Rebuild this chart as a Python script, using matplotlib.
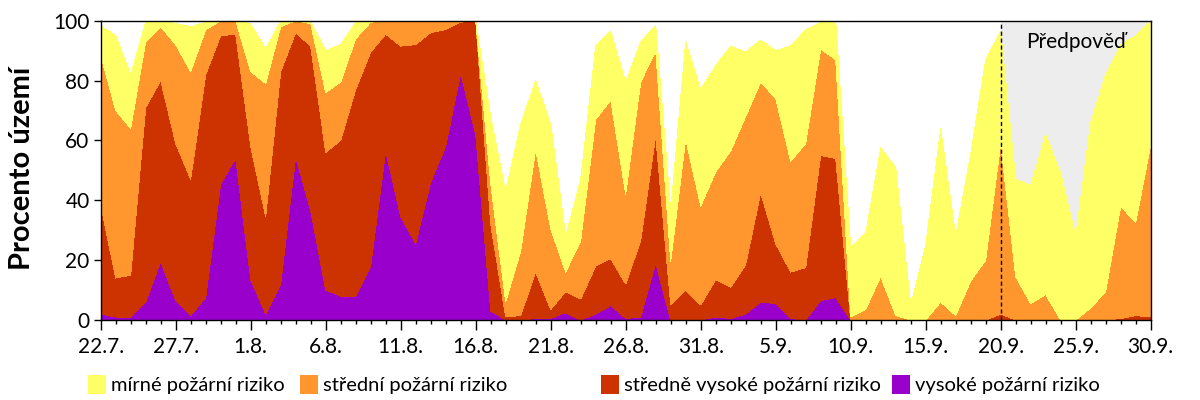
import matplotlib
matplotlib.use("Agg")
import matplotlib.pyplot as plt
from matplotlib.patches import Patch
import numpy as np

plt.rcParams['font.family'] = ['Lato', 'DejaVu Sans']

# days from 22.7. (index 0) to 30.9. (index 70)
days = list(range(71))
tick_labels = ["22.7.", "27.7.", "1.8.", "6.8.", "11.8.", "16.8.", "21.8.", "26.8.",
               "31.8.", "5.9.", "10.9.", "15.9.", "20.9.", "25.9.", "30.9."]
forecast_start = 60

# percent of territory per risk class (stacked bottom to top)
vysoke = [2, 1, 1, 6, 19.5, 6.5, 1.5, 7.5, 45.5, 54,
          13.5, 2, 12, 54.5, 36.5, 10, 8, 8, 18, 56.5,
          34.5, 25.5, 46, 58, 82.5, 62, 3, 0, 0, 0.5,
          0.5, 2.5, 0, 2, 4.8, 0.5, 1, 19, 0, 0,
          0, 1, 0.5, 2, 6, 5.5, 0.5, 0, 6.5, 7.5,
          0, 0, 0, 0, 0, 0, 0, 0, 0, 0,
          0, 0, 0, 0, 0, 0, 0, 0, 0, 0, 0]
stredne_vysoke = [36.5, 13, 14, 65, 60.5, 52.5, 45.5, 74.5, 49.5, 41.5,
                  44.5, 32.5, 71, 41.5, 55, 46, 52, 69, 71.5, 39,
                  57, 66.5, 50, 39, 17, 38, 29, 1, 1.5, 15.5,
                  3, 7, 7, 16, 15.7, 11.5, 25.5, 42.5, 5, 10,
                  5, 12.5, 10.5, 16.5, 36.5, 20, 15.5, 17.5, 48.5, 46.5,
                  0, 0, 0, 0, 0, 0, 0, 0, 0, 0,
                  2, 0, 0, 0, 0, 0, 0, 0, 0.5, 1.5, 1]
stredni = [50, 56, 49, 22, 18, 33, 36, 15, 5, 4.5,
           25, 44.5, 15, 4, 7.5, 20, 19.5, 17, 10, 4.5,
           8.5, 8, 4, 3, 0.5, 0, 13.5, 5, 21.5, 41,
           27, 6.5, 19.5, 49, 53, 30, 53, 28.5, 14.5, 50.5,
           33, 36, 45.5, 49.5, 37, 48.5, 37, 41.5, 35.5, 33,
           1, 3.5, 14.5, 1.5, 0, 0, 6, 1.5, 13, 20,
           57, 14.5, 5.5, 8.5, 0, 0, 4, 9.5, 37.5, 31, 57.5]
mirne = [9.8, 25, 18, 6.5, 2, 7, 15, 2.5, 0, 0,
         16, 11.5, 2, 0, 0.5, 14, 12.5, 5.5, 0.5, 0,
         0, 0, 0, 0, 0, 0, 22.5, 37, 42.5, 23,
         35, 12, 20.5, 24.5, 23, 37.5, 13.5, 8.5, 17, 32.5,
         39, 35.5, 35, 21.5, 14, 16, 38.5, 38, 9, 13,
         23, 25.5, 43, 49.5, 5, 25, 58, 26.5, 42.5, 67,
         37.5, 32.5, 39.5, 53.5, 49, 28, 62, 72.5, 54, 62.5, 41.5]

series_labels = ["mírné požární riziko", "střední požární riziko",
                 "středně vysoké požární riziko", "vysoké požární riziko"]
colors = {"mirne": "#FFFF66", "stredni": "#FF962E", "stredne": "#CC3300", "vysoke": "#9900CC"}

fig = plt.figure(figsize=(12, 4), dpi=100)
ax = fig.add_axes([100.7 / 1200, 80 / 400, 1050 / 1200, 299.3 / 400])

ax.axvspan(forecast_start, days[-1], color="#EDEDED", zorder=0, lw=0)
ax.stackplot(days, vysoke, stredne_vysoke, stredni, mirne,
             colors=[colors["vysoke"], colors["stredne"], colors["stredni"], colors["mirne"]],
             lw=0, antialiased=False, zorder=1)
ax.axvline(forecast_start, color="black", lw=1, ls=(0, (3, 2)), zorder=3)
ax.text(65, 93, "Předpověď", ha="center", va="center", fontsize=15, zorder=4)

ax.set_xlim(0, 70)
ax.set_ylim(0, 100)
ax.set_xticks(days[::5])
ax.set_xticklabels(tick_labels)
ax.set_xticks(days, minor=True)
ax.set_yticks([0, 20, 40, 60, 80, 100])
ax.tick_params(axis="x", which="major", length=7, width=1, pad=5, labelsize=15)
ax.tick_params(axis="x", which="minor", length=3, width=1)
ax.tick_params(axis="y", which="major", length=5, width=1, pad=3, labelsize=15)
for s in ax.spines.values():
    s.set_linewidth(1)
    s.set_color("black")
    s.set_zorder(5)

fig.text(22.5 / 1200, 1 - 168 / 400, "Procento území", rotation=90, ha="center", va="center",
         fontsize=21, fontweight="bold")

leg_x = [88, 300, 601, 892]
leg_colors = [colors["mirne"], colors["stredni"], colors["stredne"], colors["vysoke"]]
for lx, lab, col in zip(leg_x, series_labels, leg_colors):
    fig.legend(handles=[Patch(facecolor=col, edgecolor="none", label=lab)],
               loc="center left", bbox_to_anchor=(lx / 1200, 1 - 384.5 / 400),
               frameon=False, fontsize=14.5, borderpad=0, borderaxespad=0,
               handlelength=0.9, handleheight=1.1, handletextpad=0.22)

fig.savefig("out.png", dpi=100)
